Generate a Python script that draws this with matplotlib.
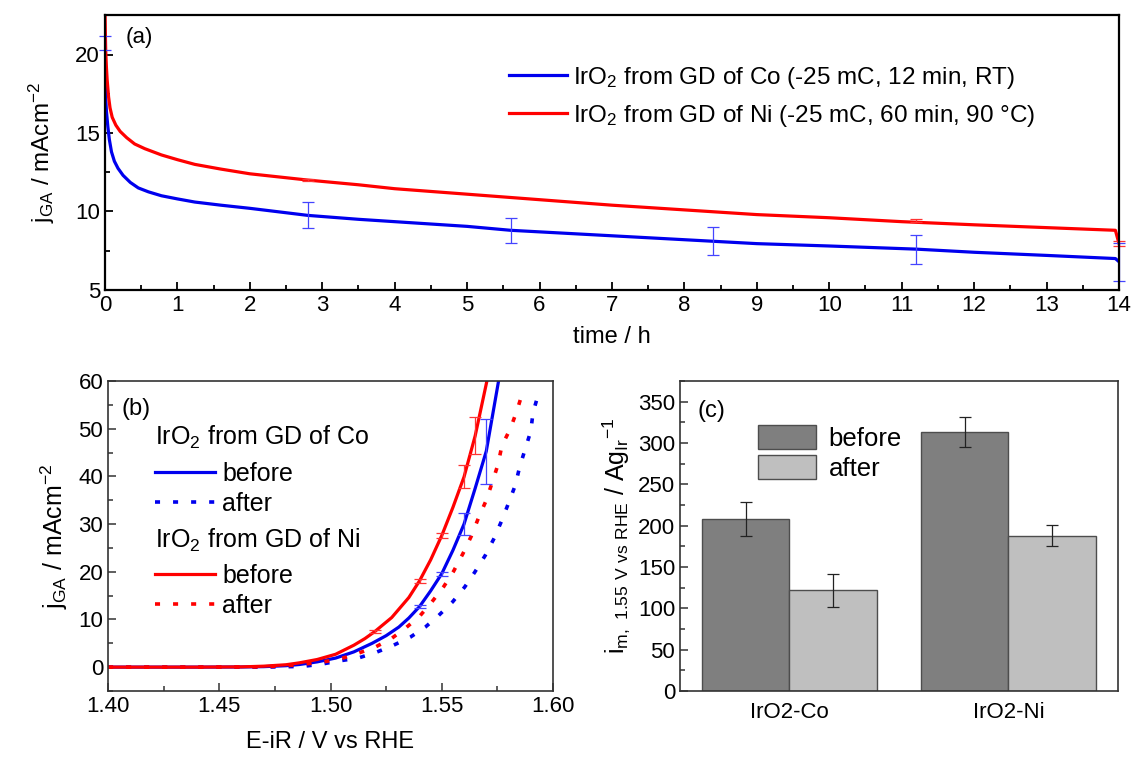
import matplotlib
matplotlib.use('Agg')
import matplotlib.pyplot as plt
from matplotlib.ticker import MultipleLocator

plt.rcParams['font.family'] = ['Liberation Sans', 'DejaVu Sans']
plt.rcParams['mathtext.default'] = 'regular'

# ---- (a) chronoamperometry, time in h, j in mA/cm2
t_co = [0, 0.003, 0.01, 0.02, 0.04, 0.06, 0.09, 0.13, 0.18, 0.25, 0.35, 0.46, 0.6,
        0.78, 1.0, 1.24, 1.6, 2.0, 2.8, 3.5, 4.0, 5.0, 5.6, 7.0, 8.4, 9.0, 10.0,
        11.2, 12.0, 13.0, 13.95, 14.0]
j_co = [20.75, 18.3, 17.2, 16.4, 15.4, 14.6, 13.8, 13.2, 12.75, 12.3, 11.85, 11.5, 11.25,
        11.0, 10.8, 10.6, 10.4, 10.2, 9.75, 9.5, 9.35, 9.05, 8.8, 8.45, 8.1, 7.95, 7.8,
        7.6, 7.4, 7.2, 7.0, 6.8]
t_ni = [0, 0.005, 0.01, 0.02, 0.03, 0.05, 0.07, 0.1, 0.15, 0.21, 0.3, 0.41, 0.55,
        0.78, 1.0, 1.24, 1.6, 2.0, 2.8, 3.5, 4.0, 5.0, 6.0, 7.0, 8.0, 9.0, 10.0,
        11.0, 12.0, 13.0, 13.95, 14.0]
j_ni = [23.0, 21.5, 20.3, 19.2, 18.4, 17.3, 16.6, 16.0, 15.5, 15.1, 14.7, 14.3, 14.0,
        13.6, 13.3, 13.0, 12.7, 12.4, 12.0, 11.7, 11.45, 11.1, 10.75, 10.4, 10.1, 9.8, 9.6,
        9.35, 9.15, 8.97, 8.8, 7.95]
t_err = [0, 2.8, 5.6, 8.4, 11.2, 14]
co_err_mid = [20.75, 9.75, 8.77, 8.1, 7.6, 6.8]
co_err = [0.45, 0.83, 0.8, 0.88, 0.93, 1.2]
t_err_ni = [2.8, 11.2, 14]
ni_err_mid = [12.0, 9.4, 7.95]
ni_err = [0.08, 0.1, 0.15]

# ---- (b) polarisation curves, E in V, j in mA/cm2
e_co_b = [1.40, 1.44, 1.46, 1.47, 1.48, 1.486, 1.494, 1.5023, 1.5105, 1.5187, 1.525,
          1.5307, 1.5352, 1.54, 1.545, 1.55, 1.555, 1.56, 1.565, 1.57, 1.5757]
j_co_b = [0, 0, 0.03, 0.1, 0.3, 0.55, 1.1, 1.9, 3.2, 5.0, 6.6,
          8.4, 10.3, 12.7, 16.0, 19.6, 24.5, 30.0, 37.5, 45.3, 60.5]
e_ni_b = [1.40, 1.44, 1.46, 1.47, 1.48, 1.486, 1.494, 1.5023, 1.5105, 1.5155, 1.52,
          1.5275, 1.5352, 1.54, 1.545, 1.55, 1.555, 1.56, 1.565, 1.5705]
j_ni_b = [0, 0, 0.05, 0.2, 0.5, 0.9, 1.6, 2.7, 4.6, 6.0, 7.5,
          10.4, 14.6, 18.1, 22.5, 27.6, 33.5, 39.9, 48.5, 60.5]
e_co_a = [1.40, 1.44, 1.47, 1.4873, 1.4956, 1.5038, 1.5124, 1.5205, 1.5279, 1.5359,
          1.5426, 1.5483, 1.5549, 1.5603, 1.5648, 1.5695, 1.5735, 1.577, 1.580,
          1.583, 1.585, 1.5874, 1.590, 1.591, 1.5935]
j_co_a = [0, 0, 0, 0.15, 0.6, 1.3, 1.9, 3.1, 4.5, 6.3,
          8.4, 10.7, 13.7, 16.8, 19.9, 23.4, 27.0, 30.8, 34.4,
          38.1, 42.0, 45.6, 49.5, 53.4, 57.4]
e_ni_a = [1.40, 1.44, 1.47, 1.483, 1.4955, 1.5042, 1.5124, 1.5205, 1.5274, 1.534,
          1.5401, 1.5456, 1.5509, 1.5553, 1.5595, 1.5633, 1.5665, 1.5698, 1.5725,
          1.5752, 1.577, 1.5809, 1.5838, 1.5863]
j_ni_a = [0, 0, 0.05, 0.4, 1.0, 1.7, 2.9, 4.3, 6.0, 8.3,
          10.7, 13.7, 16.9, 20.1, 23.8, 27.5, 31.3, 34.8, 38.5,
          42.4, 46.4, 50.1, 53.8, 57.6]
e_co_err = [1.54, 1.55, 1.56, 1.57]
co_b_mid = [12.7, 19.6, 30.0, 45.3]
co_b_err = [0.4, 0.4, 2.4, 6.8]
e_ni_err = [1.52, 1.54, 1.55, 1.56, 1.565]
ni_b_mid = [7.5, 18.1, 27.6, 39.9, 48.5]
ni_b_err = [0.3, 0.4, 0.5, 2.4, 3.9]

# ---- (c) mass activity at 1.55 V
samples = ['IrO2-Co', 'IrO2-Ni']
act_before = [208, 313]
act_before_err = [21, 18]
act_after = [122, 188]
act_after_err = [20, 13]

blue = '#0000ee'
red = '#ff0000'
dots = (0, (1.4, 3.6))

fig = plt.figure(figsize=(11.31, 7.63), dpi=100)

# (a)
ax = fig.add_axes([0.0928, 0.620, 0.8966, 0.360])
ax.plot(t_co, j_co, color=blue, lw=2.3,
        label=r'IrO$_2$ from GD of Co (-25 mC, 12 min, RT)')
ax.plot(t_ni, j_ni, color=red, lw=2.3,
        label=r'IrO$_2$ from GD of Ni (-25 mC, 60 min, 90 $\degree$C)')
ax.errorbar(t_err, co_err_mid, yerr=co_err, fmt='none', ecolor='#4444ff',
            elinewidth=0.9, capsize=4, capthick=0.9, clip_on=False)
ax.errorbar(t_err_ni, ni_err_mid, yerr=ni_err, fmt='none', ecolor='#ff3333',
            elinewidth=0.9, capsize=4, capthick=0.9, clip_on=False)
ax.set_xlim(0, 14)
ax.set_ylim(5, 22.5)
ax.xaxis.set_major_locator(MultipleLocator(1))
ax.xaxis.set_minor_locator(MultipleLocator(0.5))
ax.yaxis.set_major_locator(MultipleLocator(5))
ax.yaxis.set_minor_locator(MultipleLocator(2.5))
ax.tick_params(which='both', direction='in', labelsize=16, width=1.3)
ax.tick_params(which='major', length=6)
ax.tick_params(which='minor', length=3.5)
for s in ax.spines.values():
    s.set_linewidth(1.6)
ax.set_xlabel('time / h', fontsize=17, labelpad=7)
ax.set_ylabel(r'j$_{GA}$ / mAcm$^{-2}$', fontsize=17.5, labelpad=13)
ax.text(0.02, 0.9, '(a)', transform=ax.transAxes, fontsize=16)
ax.legend(loc='upper left', bbox_to_anchor=(0.398, 0.82), frameon=False,
          fontsize=17.5, handlelength=2.4, labelspacing=0.5, handletextpad=0.25,
          borderpad=0, borderaxespad=0)

# (b)
ax = fig.add_axes([0.0955, 0.0944, 0.3935, 0.4063])
ax.plot(e_co_b, j_co_b, color=blue, lw=2.3, label='before')
ax.plot(e_co_a, j_co_a, color=blue, lw=2.6, ls=dots, label='after')
ax.plot(e_ni_b, j_ni_b, color=red, lw=2.3, label='before')
ax.plot(e_ni_a, j_ni_a, color=red, lw=2.6, ls=dots, label='after')
ax.errorbar(e_co_err, co_b_mid, yerr=co_b_err, fmt='none', ecolor='#4444ff',
            elinewidth=0.9, capsize=4, capthick=0.9)
ax.errorbar(e_ni_err, ni_b_mid, yerr=ni_b_err, fmt='none', ecolor='#ff3333',
            elinewidth=0.9, capsize=4, capthick=0.9)
ax.set_xlim(1.40, 1.60)
ax.set_ylim(-5, 60)
ax.xaxis.set_minor_locator(MultipleLocator(0.025))
ax.yaxis.set_major_locator(MultipleLocator(10))
ax.yaxis.set_minor_locator(MultipleLocator(5))
ax.set_xticks([1.40, 1.45, 1.50, 1.55, 1.60])
ax.set_xticklabels(['1.40', '1.45', '1.50', '1.55', '1.60'])
ax.tick_params(which='both', direction='in', labelsize=16, width=1.1, color='#333333')
ax.tick_params(which='major', length=6)
ax.tick_params(which='minor', length=3.5)
for s in ax.spines.values():
    s.set_linewidth(1.2)
    s.set_color('#333333')
ax.set_xlabel('E-iR / V vs RHE', fontsize=17, labelpad=10)
ax.set_ylabel(r'j$_{GA}$ / mAcm$^{-2}$', fontsize=18, labelpad=6)
ax.text(0.03, 0.89, '(b)', transform=ax.transAxes, fontsize=17)
lines = ax.get_lines()
# group headings drawn as text, entries as title-less legends
ax.text(0.105, 0.819, r'IrO$_2$ from GD of Co', transform=ax.transAxes,
        fontsize=18, va='center')
ax.text(0.105, 0.487, r'IrO$_2$ from GD of Ni', transform=ax.transAxes,
        fontsize=18, va='center')
leg1 = ax.legend(lines[0:2], ['before', 'after'], loc='upper left',
                 bbox_to_anchor=(0.105, 0.74), frameon=False, fontsize=18,
                 handlelength=2.4, handletextpad=0.3, labelspacing=0.24,
                 borderpad=0, borderaxespad=0)
ax.add_artist(leg1)
ax.legend(lines[2:4], ['before', 'after'], loc='upper left',
          bbox_to_anchor=(0.105, 0.41), frameon=False, fontsize=18,
          handlelength=2.4, handletextpad=0.3, labelspacing=0.24,
          borderpad=0, borderaxespad=0)

# (c)
ax = fig.add_axes([0.6012, 0.0944, 0.3873, 0.4063])
x = [1, 2]
w = 0.4
ax.bar([p - w / 2 for p in x], act_before, width=w, color='#7f7f7f',
       edgecolor='#4d4d4d', lw=1.0, label='before')
ax.bar([p + w / 2 for p in x], act_after, width=w, color='#bfbfbf',
       edgecolor='#4d4d4d', lw=1.0, label='after')
ax.errorbar([p - w / 2 for p in x], act_before, yerr=act_before_err, fmt='none',
            ecolor='#222222', elinewidth=0.9, capsize=4, capthick=0.9)
ax.errorbar([p + w / 2 for p in x], act_after, yerr=act_after_err, fmt='none',
            ecolor='#222222', elinewidth=0.9, capsize=4, capthick=0.9)
ax.set_xlim(0.5, 2.5)
ax.set_ylim(0, 375)
ax.set_xticks(x)
ax.set_xticklabels(samples)
ax.yaxis.set_major_locator(MultipleLocator(50))
ax.yaxis.set_minor_locator(MultipleLocator(25))
ax.tick_params(axis='x', length=0, labelsize=16, pad=8)
ax.tick_params(axis='y', which='both', direction='in', labelsize=16, width=1.1,
               color='#333333')
ax.tick_params(axis='y', which='major', length=6)
ax.tick_params(axis='y', which='minor', length=3.5)
for s in ax.spines.values():
    s.set_linewidth(1.2)
    s.set_color('#333333')
ax.set_ylabel(r'i$_{m,\ 1.55\ V\ vs\ RHE}$ / Ag$_{Ir}$$^{-1}$', fontsize=18, labelpad=4)
ax.text(0.04, 0.885, '(c)', transform=ax.transAxes, fontsize=17)
ax.legend(loc='upper left', bbox_to_anchor=(0.178, 0.858), frameon=False, fontsize=18.5,
          handlelength=2.25, handleheight=1.05, labelspacing=0.17, handletextpad=0.5,
          borderpad=0, borderaxespad=0)

fig.savefig('out.png', dpi=100)
